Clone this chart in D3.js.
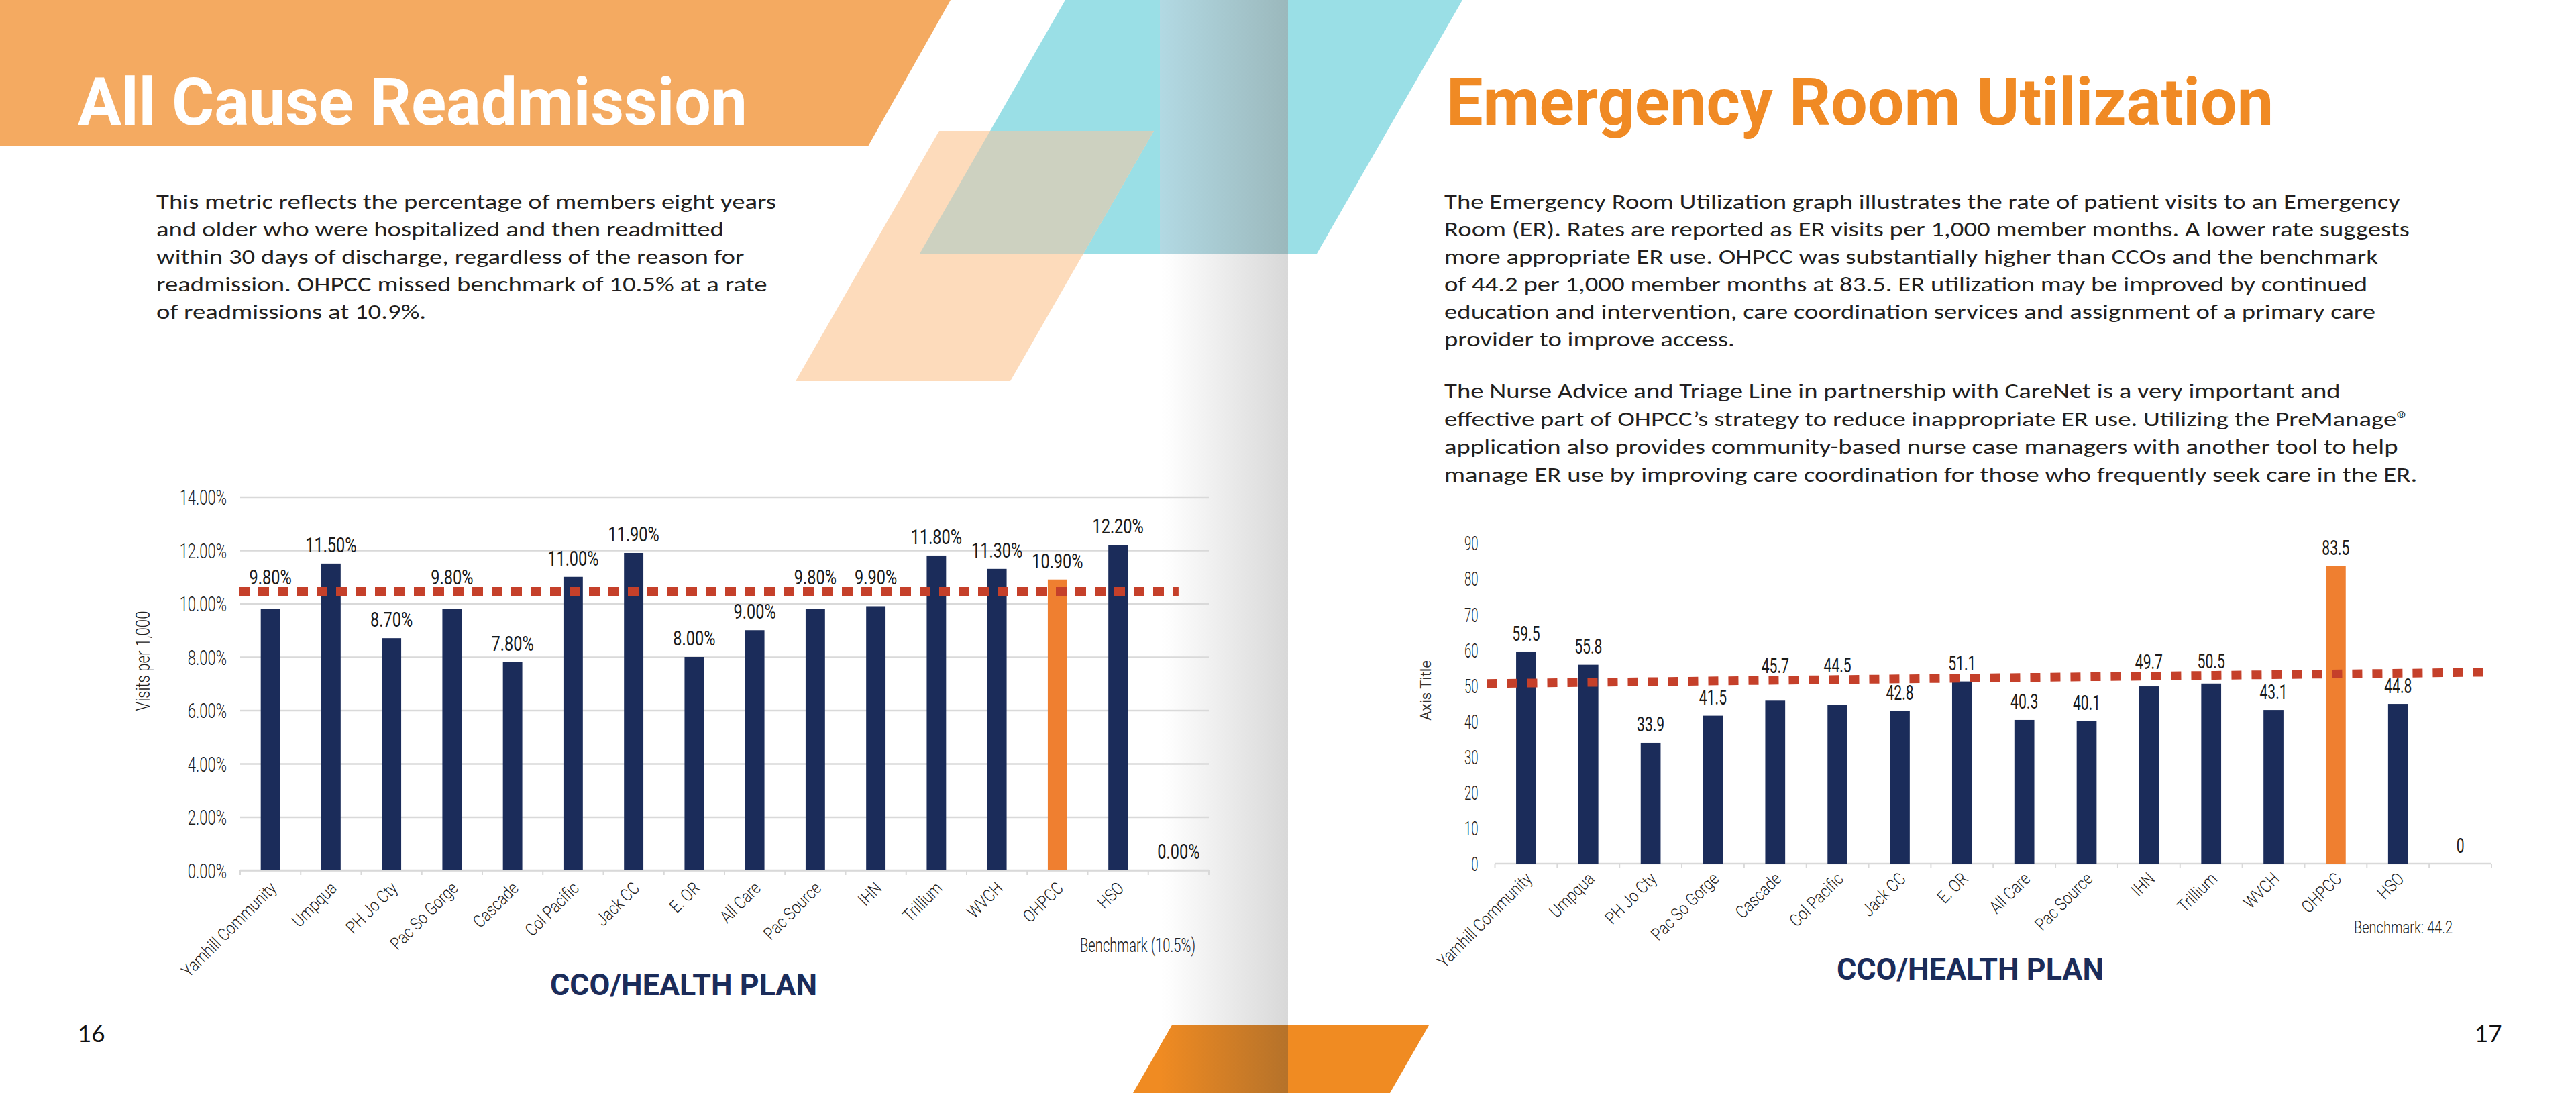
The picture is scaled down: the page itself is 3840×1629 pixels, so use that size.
<!DOCTYPE html>
<html>
<head>
<meta charset="utf-8">
<title>All Cause Readmission / Emergency Room Utilization</title>
<script src="https://d3js.org/d3.v7.min.js"></script>
<style>
  body { margin: 0; background: #fff; }
  svg { display: block; }
  .body-text { font-family: Carlito, Lato, "Open Sans", sans-serif; font-size: 30px; fill: #231f20; }
</style>
</head>
<body>
<div id="page"></div>
<script>
// ---- data ----
var categories = ["Yamhill Community", "Umpqua", "PH Jo Cty", "Pac So Gorge", "Cascade", "Col Pacific",
  "Jack CC", "E. OR", "All Care", "Pac Source", "IHN", "Trillium", "WVCH", "OHPCC", "HSO", ""];
var readmitRates = [0.098, 0.115, 0.087, 0.098, 0.078, 0.110, 0.119, 0.080, 0.090, 0.098, 0.099, 0.118, 0.113, 0.109, 0.122, 0];
var erRates = [59.5, 55.8, 33.9, 41.5, 45.7, 44.5, 42.8, 51.1, 40.3, 40.1, 49.7, 50.5, 43.1, 83.5, 44.8, 0];
var readmitTicks = [0, 0.02, 0.04, 0.06, 0.08, 0.10, 0.12, 0.14];
var erTicks = [0, 10, 20, 30, 40, 50, 60, 70, 80, 90];
// hand-drawn benchmark lines (start value, end value)
var readmitBenchmarkLine = [0.1045, 0.1045];
var erBenchmarkLine = [50.5, 53.7];
var highlighted = "OHPCC";

var leftText = [
  "This metric reflects the percentage of members eight years",
  "and older who were hospitalized and then readmitted",
  "within 30 days of discharge, regardless of the reason for",
  "readmission. OHPCC missed benchmark of 10.5% at a rate",
  "of readmissions at 10.9%."
];
var rightText1 = [
  "The Emergency Room Utilization graph illustrates the rate of patient visits to an Emergency",
  "Room (ER). Rates are reported as ER visits per 1,000 member months. A lower rate suggests",
  "more appropriate ER use. OHPCC was substantially higher than CCOs and the benchmark",
  "of 44.2 per 1,000 member months at 83.5. ER utilization may be improved by continued",
  "education and intervention, care coordination services and assignment of a primary care",
  "provider to improve access."
];
var rightText2 = [
  "The Nurse Advice and Triage Line in partnership with CareNet is a very important and",
  "effective part of OHPCC\u2019s strategy to reduce inappropriate ER use. Utilizing the PreManage\u00ae",
  "application also provides community-based nurse case managers with another tool to help",
  "manage ER use by improving care coordination for those who frequently seek care in the ER."
];

var W = 3840, H = 1629;
var svg = d3.select('#page').append('svg').attr('width', W).attr('height', H);
var defs = svg.append('defs');

function hGradient(id, x1, x2, stops) {
  var gr = defs.append('linearGradient').attr('id', id).attr('gradientUnits', 'userSpaceOnUse')
    .attr('x1', x1).attr('x2', x2).attr('y1', 0).attr('y2', 0);
  stops.forEach(function(s) { gr.append('stop').attr('offset', s[0]).attr('stop-color', s[1]); });
}
hGradient('spineTeal', 1729, 1920, [[0, '#b2d9e3'], [1, '#9bb8bc']]);
hGradient('spineWhite', 1729, 1920, [[0, '#ffffff'], [0.08, '#fdfdfd'], [1, '#d8d8d8']]);
hGradient('spineOrange', 1729, 1920, [[0, '#f08b22'], [1, '#b5722a']]);

function poly(pts, fill) {
  svg.append('polygon').attr('points', pts.map(function(p) { return p.join(','); }).join(' ')).attr('fill', fill);
}

// ---- page decoration ----
svg.append('rect').attr('width', W).attr('height', H).attr('fill', '#fff');
poly([[0, 0], [1417, 0], [1294, 218], [0, 218]], '#f4aa61');
poly([[1588, 0], [2180, 0], [1963, 378], [1371, 378]], '#9adfe6');
poly([[1400, 195], [1720, 195], [1506, 568], [1186, 568]], '#fddbbb');
poly([[1476, 195], [1720, 195], [1615, 378], [1371, 378]], '#cdd1c0');
svg.append('rect').attr('x', 1729).attr('y', 0).attr('width', 191).attr('height', 378).attr('fill', 'url(#spineTeal)');
svg.append('rect').attr('x', 1729).attr('y', 378).attr('width', 191).attr('height', H - 378).attr('fill', 'url(#spineWhite)');
poly([[1747, 1528], [2130, 1528], [2072, 1629], [1689, 1629]], '#f08b22');
poly([[1747, 1528], [1920, 1528], [1920, 1629], [1729, 1629], [1729, 1559]], 'url(#spineOrange)');

// ---- titles ----
svg.append('text').attr('x', 116).attr('y', 186).text('All Cause Readmission')
  .attr('font-family', 'Roboto, sans-serif').attr('font-weight', 700).attr('font-size', 98)
  .attr('fill', '#fff').attr('textLength', 998).attr('lengthAdjust', 'spacingAndGlyphs');
svg.append('text').attr('x', 2156).attr('y', 186).text('Emergency Room Utilization')
  .attr('font-family', 'Roboto, sans-serif').attr('font-weight', 700).attr('font-size', 98)
  .attr('fill', '#f08a24').attr('textLength', 1233).attr('lengthAdjust', 'spacingAndGlyphs');

// ---- body text ----
function paragraph(lines, x, y0, step) {
  return lines.map(function(t, i) {
    return svg.append('text').attr('class', 'body-text').attr('x', x).attr('y', y0 + i * step).text(t);
  });
}
var blocks = [].concat(paragraph(leftText, 233, 311, 41), paragraph(rightText1, 2153, 311, 41),
  paragraph(rightText2, 2153, 593, 41.5));
var fit = 924 / blocks[0].node().getComputedTextLength();
blocks.forEach(function(t) {
  t.attr('textLength', t.node().getComputedTextLength() * fit).attr('lengthAdjust', 'spacingAndGlyphs');
});

// ---- charts ----
function drawChart(c) {
  var g = svg.append('g');
  var x = d3.scaleBand().domain(categories).range([c.left, c.right]);
  var y = d3.scaleLinear().domain([0, c.max]).range([c.bottom, c.top]);
  var bw = x.bandwidth(), barW = bw * 0.32;

  var ya = g.append('g').attr('transform', 'translate(' + c.left + ',0)')
    .call(d3.axisLeft(y).tickValues(c.ticks).tickFormat(c.tickFormat)
      .tickSize(c.grid ? -(c.right - c.left) : 0).tickPadding(0))
    .attr('font-family', 'Roboto, sans-serif').attr('font-size', c.tickFont).attr('font-weight', 300);
  ya.select('.domain').remove();
  ya.selectAll('.tick line').attr('stroke', '#d9d9d9').attr('stroke-width', 2.5);
  ya.selectAll('.tick text').attr('x', null).attr('dy', '0.36em').attr('fill', '#1f1f1f')
    .attr('transform', 'translate(' + (-c.tickPad) + ',0) scale(' + c.tickScale + ',1)');

  // category axis: line, separators between bands, rotated labels
  g.append('line').attr('x1', c.left).attr('x2', c.right).attr('y1', c.bottom).attr('y2', c.bottom)
    .attr('stroke', '#d9d9d9').attr('stroke-width', 2.5);
  g.append('g').selectAll('line').data(d3.range(categories.length + 1)).join('line')
    .attr('x1', function(i) { return c.left + i * bw; }).attr('x2', function(i) { return c.left + i * bw; })
    .attr('y1', c.bottom).attr('y2', c.bottom + 7).attr('stroke', '#d9d9d9').attr('stroke-width', 2);
  var xa = g.append('g').attr('transform', 'translate(0,' + c.bottom + ')')
    .call(d3.axisBottom(x).tickSize(0).tickPadding(0))
    .attr('font-family', 'Roboto, sans-serif').attr('font-size', 26).attr('font-weight', 300);
  xa.select('.domain').remove();
  xa.selectAll('.tick text').attr('y', null).attr('dy', '0.35em').attr('fill', '#1f1f1f')
    .attr('text-anchor', 'end')
    .attr('transform', 'translate(' + c.catDx + ',' + c.catDy + ') rotate(-45) scale(0.84,1)');

  g.append('g').selectAll('rect').data(c.values).join('rect')
    .attr('x', function(d, i) { return x(categories[i]) + (bw - barW) / 2; })
    .attr('y', function(d) { return y(d); })
    .attr('width', barW)
    .attr('height', function(d) { return c.bottom - y(d); })
    .attr('fill', function(d, i) { return categories[i] === highlighted ? '#ef7f30' : '#1b2c5a'; });

  var bx0 = c.left + c.benchFrom, bx1 = c.left + c.benchTo * bw;
  var by = d3.scaleLinear().domain([bx0, bx1]).range([y(c.bench[0]), y(c.bench[1])]);
  g.append('line').attr('x1', bx0).attr('y1', by(bx0)).attr('x2', bx1).attr('y2', by(bx1))
    .attr('stroke', '#c5402a').attr('stroke-width', 13).attr('stroke-dasharray', c.dash);

  g.append('g').selectAll('text').data(c.values).join('text')
    .attr('transform', function(d, i) {
      var cx = x(categories[i]) + bw / 2, cy = y(d) - c.labelGap, ly = by(cx);
      if (Math.abs(cy - ly) < 17) cy = ly - 22;
      return 'translate(' + cx + ',' + cy + ') scale(' + c.valueScale + ',1)';
    })
    .attr('dy', '0.36em').attr('text-anchor', 'middle')
    .attr('font-family', 'Roboto, sans-serif').attr('font-size', c.valueFont).attr('fill', '#1a1a1a')
    .text(c.valueFormat);
}

drawChart({
  left: 358, right: 1802, bottom: 1297, top: 740.5, max: 0.14,
  values: readmitRates, ticks: readmitTicks, tickFormat: d3.format('.2%'), grid: true,
  tickFont: 31, tickScale: 0.71, tickPad: 20,
  valueFont: 31, valueScale: 0.76, valueFormat: d3.format('.2%'), labelGap: 28,
  bench: readmitBenchmarkLine, benchFrom: -2, benchTo: 15.5, dash: '16,13',
  catDx: 4, catDy: 22
});
drawChart({
  left: 2228.5, right: 3714, bottom: 1287, top: 809, max: 90,
  values: erRates, ticks: erTicks, tickFormat: d3.format('d'), grid: false,
  tickFont: 30, tickScale: 0.62, tickPad: 25,
  valueFont: 32, valueScale: 0.66, valueFormat: function(d) { return String(d); }, labelGap: 28,
  bench: erBenchmarkLine, benchFrom: -12, benchTo: 16, dash: '15,15',
  catDx: 4, catDy: 18
});

// ---- axis titles and notes ----
function label(txt, x, y, o) {
  var t = svg.append('text').attr('x', x).attr('y', y).text(txt)
    .attr('font-family', o.family || 'Roboto, sans-serif').attr('font-size', o.size)
    .attr('font-weight', o.weight || 400).attr('fill', o.fill || '#222')
    .attr('text-anchor', o.anchor || 'start');
  if (o.len) t.attr('textLength', o.len).attr('lengthAdjust', 'spacingAndGlyphs');
  if (o.rotate) t.attr('transform', 'rotate(-90,' + x + ',' + y + ')').attr('dy', '0.35em');
  return t;
}
label('Visits per 1,000', 213, 985, { size: 29, len: 149, anchor: 'middle', rotate: true, weight: 300 });
label('Axis Title', 2125, 1029, { size: 22, anchor: 'middle', rotate: true, fill: '#333' });
label('CCO/HEALTH PLAN', 1019, 1483, { size: 44, weight: 700, len: 398, anchor: 'middle', fill: '#1b2c5a' });
label('CCO/HEALTH PLAN', 2937, 1460, { size: 44, weight: 700, len: 398, anchor: 'middle', fill: '#1b2c5a' });
label('Benchmark (10.5%)', 1610, 1419, { size: 29, len: 172, weight: 300 });
label('Benchmark: 44.2', 3509, 1391, { size: 25, len: 147, weight: 300 });
label('16', 116, 1553, { size: 35, family: 'Lato, sans-serif', fill: '#111' });
label('17', 3689, 1553, { size: 35, family: 'Lato, sans-serif', fill: '#111' });
</script>
</body>
</html>
